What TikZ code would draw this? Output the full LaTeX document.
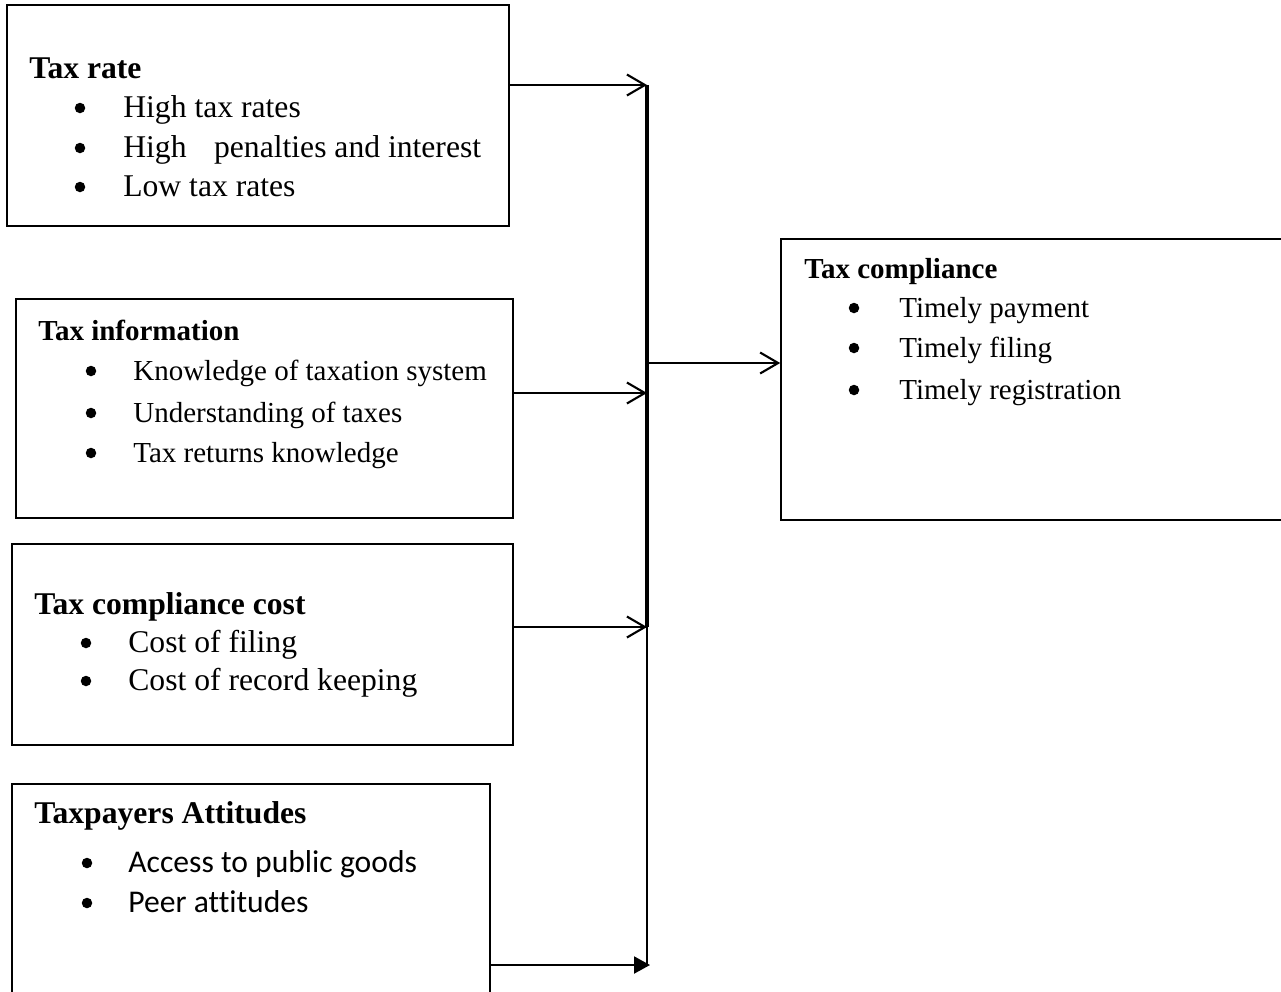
\documentclass[tikz,border=0pt]{standalone}
\usepackage{fontspec}
\setmainfont{Liberation Serif}
\newfontfamily\calibri[Ligatures=NoCommon]{Carlito}
\usetikzlibrary{arrows.meta,fit}

\newcommand{\sizeL}{\fontsize{18}{22}\selectfont}
\newcommand{\sizeS}{\fontsize{16.5}{20}\selectfont}

\tikzset{
  box/.style={draw,line width=0.9pt,inner sep=0pt},
  head/.style={anchor=base west,inner sep=0pt,font=\sizeL\bfseries},
  item/.style={anchor=base west,inner sep=0pt,font=\sizeL},
  dot/.style={circle,fill,inner sep=0pt,minimum size=2.1mm},
  link/.style={line width=1.2pt,-{Straight Barb[length=3.6mm,width=4.2mm]}},
}

\begin{document}
\begin{tikzpicture}[x=0.2mm,y=-0.2mm]
  \clip (0,0) rectangle (1281,991);

  % factor boxes
  \node[box,fit={(7,5) (509,226)}] (rate) {};
  \node[box,fit={(16,299) (513,518)}] (info) {};
  \node[box,fit={(12,544) (513,745)}] (cost) {};
  \node[box,fit={(12,784) (490,1010)}] (att) {};
  \node[box,fit={(781,239) (1300,520)}] (comply) {};

  % tax rate
  \node[head] (rate-h) at (29,78) {Tax rate};
  \foreach \y/\t [count=\i] in {117/High tax rates,
      157/High\hspace{5.5mm}penalties and interest, 196/Low tax rates} {
    \node[dot] (rate-b\i) at (80,\y-9) {};
    \node[item] (rate-\i) at (123,\y) {\t};
  }

  % tax information
  \node[head,font=\sizeS\bfseries] (info-h) at (38,340) {Tax information};
  \foreach \y/\t [count=\i] in {380/Knowledge of taxation system,
      422/Understanding of taxes, 462/Tax returns knowledge} {
    \node[dot] (info-b\i) at (91,\y-9) {};
    \node[item,font=\sizeS] (info-\i) at (133,\y) {\t};
  }

  % compliance cost
  \node[head] (cost-h) at (34,614) {Tax compliance cost};
  \foreach \y/\t [count=\i] in {652/Cost of filing, 690/Cost of record keeping} {
    \node[dot] (cost-b\i) at (86,\y-9) {};
    \node[item] (cost-\i) at (128,\y) {\t};
  }

  % attitudes
  \node[head] (att-h) at (34,823) {Taxpayers Attitudes};
  \foreach \y/\t [count=\i] in {872/Access to public goods, 912/Peer attitudes} {
    \node[dot] (att-b\i) at (87,\y-9) {};
    \node[item,font=\sizeL\calibri] (att-\i) at (128,\y) {\t};
  }

  % outcome
  \node[head,font=\sizeS\bfseries] (comply-h) at (804,278) {Tax compliance};
  \foreach \y/\t [count=\i] in {317/Timely payment, 357/Timely filing,
      399/Timely registration} {
    \node[dot] (comply-b\i) at (854,\y-9) {};
    \node[item,font=\sizeS] (comply-\i) at (899,\y) {\t};
  }

  % bus and arrows
  \coordinate (j-rate) at (647,85);
  \coordinate (j-out) at (647,363);
  \coordinate (j-info) at (647,393);
  \coordinate (j-cost) at (647,627);
  \coordinate (j-att) at (647,965);
  \draw[line width=2.2pt] (j-rate) -- (j-cost);
  \draw[line width=1.2pt] (j-cost) -- (j-att);
  \draw[link] (rate.east |- j-rate) -- (j-rate);
  \draw[link] (info.east |- j-info) -- (j-info);
  \draw[link] (cost.east |- j-cost) -- (j-cost);
  \draw[line width=1.2pt,-{Triangle[length=3.2mm,width=3.4mm]}]
    (att.east |- j-att) -- ([xshift=0.6mm]j-att);
  \draw[link] (j-out) -- (comply.west |- j-out);
\end{tikzpicture}
\end{document}
